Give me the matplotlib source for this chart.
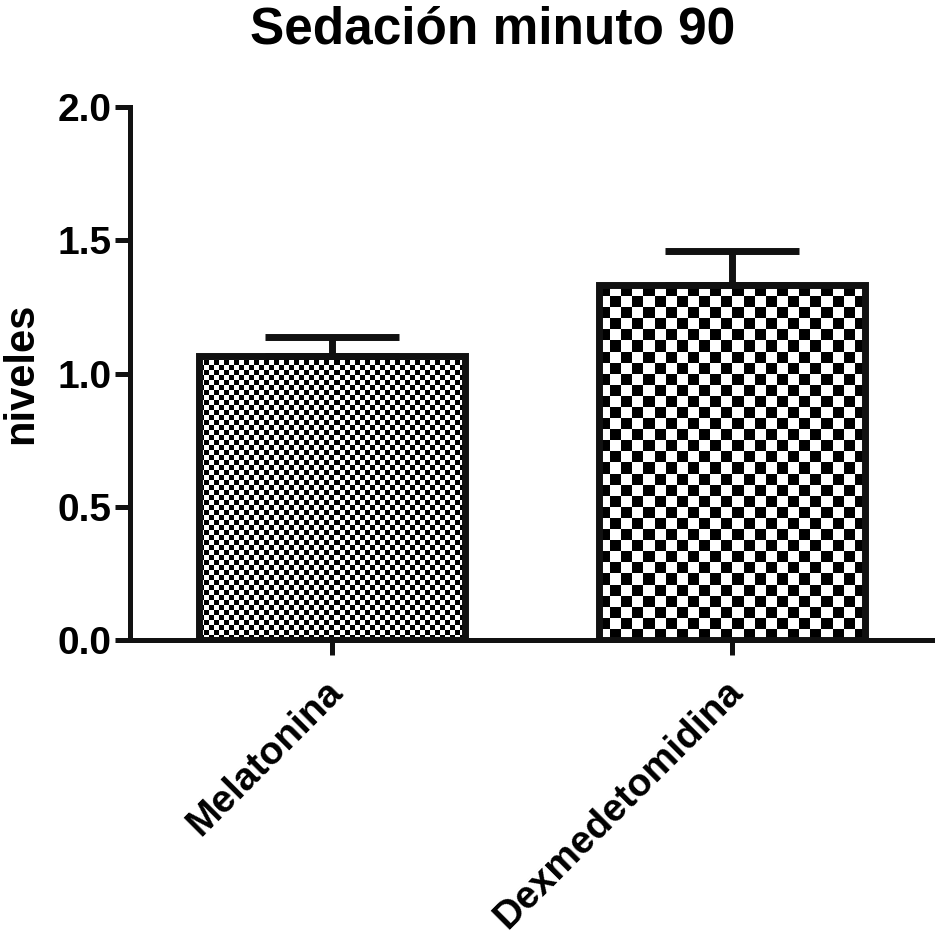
import numpy as np
import matplotlib
matplotlib.use('Agg')
import matplotlib.pyplot as plt
from matplotlib.transforms import ScaledTranslation

plt.rcParams['font.family'] = ['Liberation Sans', 'DejaVu Sans']
plt.rcParams['font.weight'] = 'bold'

# data
groups = ['Melatonina', 'Dexmedetomidina']
means = [1.067, 1.332]
errors = [0.07, 0.128]
yticks = [0.0, 0.5, 1.0, 1.5, 2.0]
title = 'Sedación minuto 90'
ylabel = 'niveles'

# checker size (pixels) per bar
cell_px = [5, 11]

fig = plt.figure(figsize=(9.35, 9.39), dpi=100)
ax = fig.add_axes([130 / 935, 299 / 939, 803 / 935, 533 / 939])

x = np.arange(len(groups))
bar_w = 0.665
ax.set_xlim(-0.505, 1.5025)
ax.set_ylim(0, 2.0)

bars = ax.bar(x, means, width=bar_w, facecolor='none', edgecolor='#111111',
              linewidth=5, zorder=3)

# checker fill drawn as image inside each bar
fig.canvas.draw()
for b, c in zip(bars, cell_px):
    x0, y0 = b.get_x(), b.get_y()
    x1, y1 = x0 + b.get_width(), y0 + b.get_height()
    p0 = ax.transData.transform((x0, y0))
    p1 = ax.transData.transform((x1, y1))
    nx = int(round((p1[0] - p0[0]) / c))
    ny = int(round((p1[1] - p0[1]) / c))
    ii, jj = np.indices((ny, nx))
    board = (ii + jj) % 2
    ax.imshow(board, cmap='gray', extent=(x0, x1, y0, y1), aspect='auto',
              interpolation='nearest', vmin=0, vmax=1, zorder=2)

ax.set_xlim(-0.505, 1.5025)
ax.set_ylim(0, 2.0)

# only the upper half of the error bar, GraphPad style
ax.errorbar(x, means, yerr=[np.zeros(len(errors)), errors], fmt='none',
            ecolor='#111111', elinewidth=5, capsize=48, capthick=5, zorder=4)

for s in ['top', 'right']:
    ax.spines[s].set_visible(False)
for s in ['left', 'bottom']:
    ax.spines[s].set_linewidth(3.6)
    ax.spines[s].set_color('#111111')

ax.set_yticks(yticks)
ax.set_yticklabels([f'{v:.1f}' for v in yticks], fontsize=28, fontweight='bold')
ax.set_xticks(x)
ax.set_xticklabels(groups, fontsize=28, fontweight='bold', rotation=45,
                   ha='right', va='top', rotation_mode='anchor')
ax.tick_params(axis='both', length=11, width=3.6, color='#111111')
ax.tick_params(axis='y', pad=2)
ax.tick_params(axis='x', pad=6)

# nudge the rotated labels down-left a little
offset = ScaledTranslation(-8 / 100, -10 / 100, fig.dpi_scale_trans)
for lbl in ax.get_xticklabels():
    lbl.set_transform(lbl.get_transform() + offset)

ax.set_ylabel(ylabel, fontsize=30, fontweight='bold', labelpad=12)

fig.text(493 / 935, 896 / 939, title, fontsize=37, fontweight='bold',
         ha='center', va='baseline')

fig.savefig('out.png', dpi=100, facecolor='white')
